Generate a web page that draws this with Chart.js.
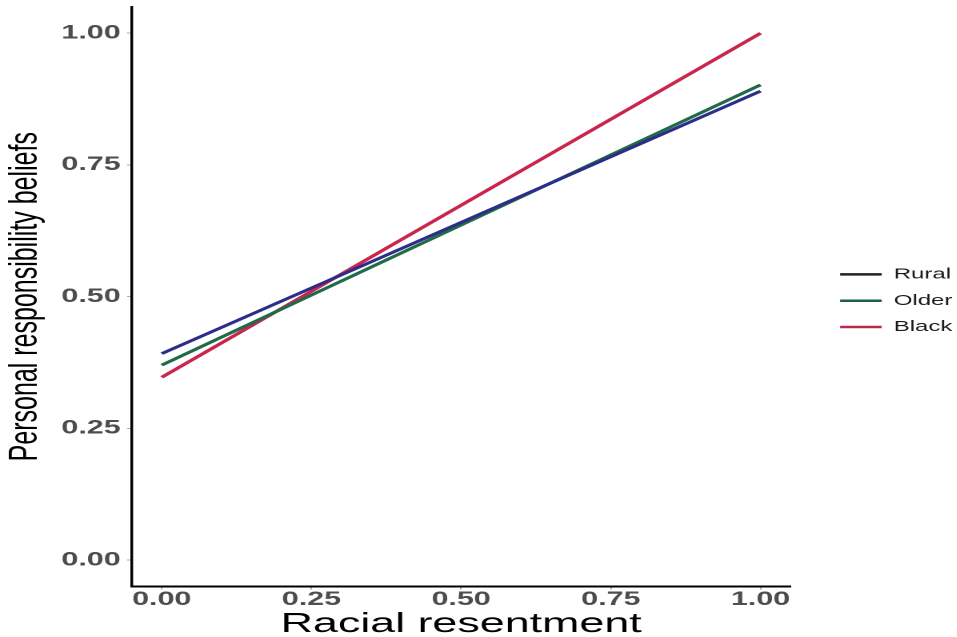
<!DOCTYPE html>
<html>
<head>
<meta charset="utf-8">
<script src="https://cdn.jsdelivr.net/npm/chart.js@4.4.1/dist/chart.umd.min.js"></script>
<style>
    html, body { margin: 0; padding: 0; background: #fff; overflow: hidden; }
    /* the reference picture is stretched sideways, so the chart is drawn narrow and widened */
    #wrap { width: 598px; height: 637px; transform: scaleX(1.6); transform-origin: 0 0; }
</style>
</head>
<body>
<div id="wrap"><canvas id="chart"></canvas></div>
<script>
// values
const resentment = [0, 1];
const rural = [0.392, 0.890];
const older = [0.370, 0.902];
const black = [0.347, 1.000];
const seriesNames = ['Rural', 'Older', 'Black'];
const tickValues = [0, 0.25, 0.5, 0.75, 1];

const toPoints = (ys) => resentment.map((x, i) => ({x: x, y: ys[i]}));

const lineColors = ['#2c2c8a', '#1f6a48', '#c8264c'];
const keyColors = ['#222222', '#1f5f44', '#b8294a'];

const fontFamily = "'Liberation Sans', Arial, sans-serif";

new Chart(document.getElementById('chart'), {
    type: 'line',
    data: {
        datasets: [rural, older, black].map((ys, i) => ({
            label: seriesNames[i],
            data: toPoints(ys),
            borderColor: lineColors[i],
            backgroundColor: lineColors[i],
            borderWidth: 2.8,
            pointRadius: 0,
            tension: 0
        }))
    },
    options: {
        responsive: true,
        maintainAspectRatio: false,
        animation: false,
        devicePixelRatio: 2,
        layout: {padding: {top: -3.4, left: 0, right: -7.25, bottom: -1.5}},
        plugins: {
            tooltip: {enabled: false},
            legend: {
                position: 'right',
                align: 'start',
                // empty title only pushes the keys down to their place
                title: {display: true, text: ' ', font: {size: 10, lineHeight: 1}, padding: {top: 249, bottom: 0}},
                labels: {
                    boxWidth: 26,
                    boxHeight: 2.5,
                    padding: 11.3,
                    color: '#1a1a1a',
                    font: {family: fontFamily, size: 15},
                    generateLabels: (chart) => chart.data.datasets.map((ds, i) => ({
                        text: ds.label,
                        fillStyle: keyColors[i],
                        strokeStyle: keyColors[i],
                        lineWidth: 0,
                        fontColor: '#1a1a1a',
                        datasetIndex: i
                    }))
                }
            }
        },
        scales: {
            x: {
                type: 'linear',
                min: -0.05,
                max: 1.05,
                afterBuildTicks: (scale) => { scale.ticks = tickValues.map(v => ({value: v})); },
                ticks: {
                    color: '#4d4d4d',
                    font: {family: fontFamily, size: 19, weight: 'bold', lineHeight: 1},
                    padding: 1,
                    maxRotation: 0,
                    callback: (v) => v.toFixed(2)
                },
                grid: {display: true, drawOnChartArea: false, tickLength: 3, color: '#aaa'},
                border: {display: true, color: '#000', width: 2},
                title: {
                    display: true,
                    text: 'Racial resentment',
                    color: '#000',
                    font: {family: fontFamily, size: 28, lineHeight: 1},
                    padding: {top: 0, bottom: 0}
                }
            },
            y: {
                type: 'linear',
                min: -0.05,
                max: 1.05,
                afterBuildTicks: (scale) => { scale.ticks = tickValues.map(v => ({value: v})); },
                ticks: {
                    color: '#4d4d4d',
                    font: {family: fontFamily, size: 19, weight: 'bold', lineHeight: 0.3},
                    padding: 4,
                    callback: (v) => v.toFixed(2)
                },
                grid: {display: true, drawOnChartArea: false, tickLength: 3, color: '#aaa'},
                border: {display: true, color: '#000', width: 1.7},
                title: {
                    display: true,
                    text: 'Personal responsibility beliefs',
                    color: '#000',
                    font: {family: fontFamily, size: 25, lineHeight: 1.2},
                    padding: {top: 1, bottom: 3.4}
                }
            },
            // empty spacer between plot and legend
            gap: {
                type: 'linear',
                position: 'right',
                display: true,
                ticks: {display: false},
                grid: {display: false},
                border: {display: false},
                afterFit: (scale) => { scale.width = 19.7; }
            }
        }
    }
});
</script>
</body>
</html>
